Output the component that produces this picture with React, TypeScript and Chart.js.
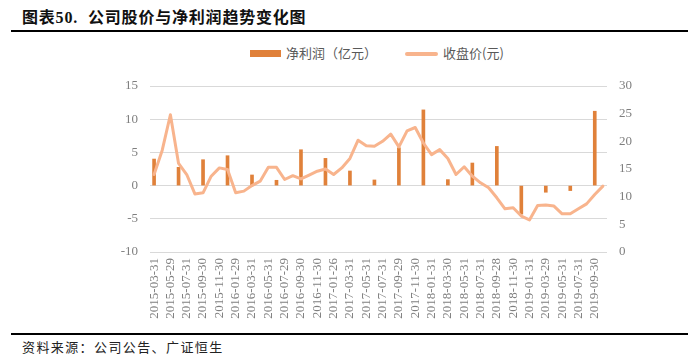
import React, { useEffect, useRef } from 'react';
import { Chart, registerables } from 'chart.js';

Chart.register(...registerables);

const categories = [
  '2015-03-31', '2015-04-30', '2015-05-29', '2015-06-30', '2015-07-31', '2015-08-31',
  '2015-09-30', '2015-10-30', '2015-11-30', '2015-12-31', '2016-01-29', '2016-02-29',
  '2016-03-31', '2016-04-29', '2016-05-31', '2016-06-30', '2016-07-29', '2016-08-31',
  '2016-09-30', '2016-10-31', '2016-11-30', '2016-12-30', '2017-01-26', '2017-02-28',
  '2017-03-31', '2017-04-28', '2017-05-31', '2017-06-30', '2017-07-31', '2017-08-31',
  '2017-09-29', '2017-10-31', '2017-11-30', '2017-12-29', '2018-01-31', '2018-02-28',
  '2018-03-30', '2018-04-27', '2018-05-31', '2018-06-29', '2018-07-31', '2018-08-31',
  '2018-09-28', '2018-10-31', '2018-11-30', '2018-12-28', '2019-01-31', '2019-02-28',
  '2019-03-29', '2019-04-30', '2019-05-31', '2019-06-28', '2019-07-31', '2019-08-30',
  '2019-09-30', '2019-10-31',
];

// 净利润（亿元）— quarterly values, null in other months
const netProfit: (number | null)[] = [
  4.0, null, null, 2.75, null, null,
  3.9, null, null, 4.5, null, null,
  1.6, null, null, 0.8, null, null,
  5.4, null, null, 4.1, null, null,
  2.2, null, null, 0.85, null, null,
  5.7, null, null, 11.4, null, null,
  0.9, null, null, 3.4, null, null,
  5.9, null, null, -4.3, null, null,
  -1.0, null, null, -0.75, null, null,
  11.2, null,
];

// 收盘价(元) — monthly close
const closePrice = [
  14.0, 18.4, 24.8, 16.0, 14.0, 10.5,
  10.7, 13.7, 15.2, 14.9, 10.7, 11.0,
  12.0, 12.8, 15.3, 15.3, 13.1, 13.8,
  13.2, 13.9, 14.6, 15.0, 14.0, 15.2,
  16.9, 20.2, 19.2, 19.1, 20.0, 21.3,
  19.0, 21.9, 22.5, 19.7, 17.6, 18.5,
  16.9, 14.0, 15.4, 13.7, 12.5, 11.6,
  9.8, 7.8, 8.0, 6.5, 5.8, 8.4,
  8.5, 8.3, 6.9, 6.9, 7.8, 8.7,
  10.4, 11.9,
];

const leftTicks = [-10, -5, 0, 5, 10, 15];
const rightTicks = [0, 5, 10, 15, 20, 25, 30];

const barColor = '#E0813A';
const lineColor = '#F8B48D';
const tickColor = '#7F7F7F';
const gridColor = '#D9D9D9';
const serif = '"Liberation Serif", "Noto Sans CJK SC", serif';

export default function App() {
  const canvasRef = useRef<HTMLCanvasElement | null>(null);

  useEffect(() => {
    const canvas = canvasRef.current;
    if (!canvas) return;
    const chart = new Chart(canvas, {
      type: 'bar',
      data: {
        labels: categories,
        datasets: [
          {
            type: 'line',
            label: '收盘价(元)',
            data: closePrice,
            yAxisID: 'y1',
            borderColor: lineColor,
            backgroundColor: lineColor,
            borderWidth: 3,
            pointRadius: 0,
            tension: 0,
            borderJoinStyle: 'round',
            borderCapStyle: 'round',
            order: 0,
          } as any,
          {
            type: 'bar',
            label: '净利润（亿元）',
            data: netProfit,
            yAxisID: 'y',
            backgroundColor: barColor,
            barThickness: 3,
            order: 1,
          } as any,
        ],
      },
      options: {
        animation: false,
        responsive: false,
        maintainAspectRatio: false,
        layout: { padding: { top: 26, left: 0, right: 0, bottom: 0 } },
        plugins: {
          legend: { display: false },
          title: { display: false },
          tooltip: { enabled: false },
        },
        scales: {
          x: {
            offset: true,
            grid: { display: false, drawTicks: false },
            border: { display: false },
            ticks: {
              autoSkip: false,
              minRotation: 90,
              maxRotation: 90,
              padding: 6,
              color: tickColor,
              font: { family: serif, size: 13 },
              callback: (_v: any, i: number) => (i % 2 === 0 ? categories[i] : ''),
            },
            afterFit: (s: any) => {
              s.height = 78;
            },
          },
          y: {
            position: 'left',
            min: -10,
            max: 15,
            afterBuildTicks: (s: any) => {
              s.ticks = leftTicks.map((v) => ({ value: v }));
            },
            grid: { color: gridColor, lineWidth: 1, drawTicks: false },
            border: { display: false },
            ticks: {
              padding: 12,
              color: tickColor,
              font: { family: serif, size: 13 },
            },
            afterFit: (s: any) => {
              s.width = 150;
            },
          },
          y1: {
            position: 'right',
            min: 0,
            max: 30,
            afterBuildTicks: (s: any) => {
              s.ticks = rightTicks.map((v) => ({ value: v }));
            },
            grid: { display: false, drawTicks: false },
            border: { display: false },
            ticks: {
              padding: 12,
              color: tickColor,
              font: { family: serif, size: 13 },
            },
            afterFit: (s: any) => {
              s.width = 81;
            },
          },
        },
      } as any,
    });
    return () => chart.destroy();
  }, []);

  const cjk = '"Noto Sans CJK SC", sans-serif';
  const titleStyle: React.CSSProperties = {
    position: 'absolute', top: 7, fontFamily: serif, fontWeight: 'bold',
    fontSize: 16, letterSpacing: 0.8, color: '#111', whiteSpace: 'nowrap', lineHeight: '22px',
  };

  return (
    <div style={{ position: 'fixed', left: 0, top: 0, width: 688, height: 357, background: '#fff', overflow: 'hidden' }}>
      <div style={{ ...titleStyle, left: 22 }}>图表50.</div>
      <div style={{ ...titleStyle, left: 88 }}>公司股价与净利润趋势变化图</div>
      <div style={{ position: 'absolute', left: 11, top: 30, width: 677, height: 2, background: '#000' }} />

      {/* legend */}
      <div style={{ position: 'absolute', left: 250, top: 50, width: 31, height: 7, background: barColor }} />
      <div
        style={{
          position: 'absolute', left: 286, top: 44, fontFamily: cjk, fontSize: 13, color: '#595959',
          lineHeight: '18px', whiteSpace: 'nowrap',
        }}
      >
        净利润（亿元）
      </div>
      <div style={{ position: 'absolute', left: 405, top: 52, width: 33, height: 4, borderRadius: 2, background: lineColor }} />
      <div
        style={{
          position: 'absolute', left: 443, top: 44, fontFamily: cjk, fontSize: 13, color: '#595959',
          lineHeight: '18px', whiteSpace: 'nowrap',
        }}
      >
        收盘价(元)
      </div>

      <canvas
        ref={canvasRef}
        width={688}
        height={270}
        style={{ position: 'absolute', left: 0, top: 60, width: 688, height: 270 }}
      />

      <div style={{ position: 'absolute', left: 11, top: 333, width: 677, height: 2, background: '#000' }} />
      <div
        style={{
          position: 'absolute', left: 22, top: 338, fontFamily: cjk, fontSize: 13, letterSpacing: 1.4,
          color: '#222', lineHeight: '18px', whiteSpace: 'nowrap',
        }}
      >
        资料来源：公司公告、广证恒生
      </div>
    </div>
  );
}
